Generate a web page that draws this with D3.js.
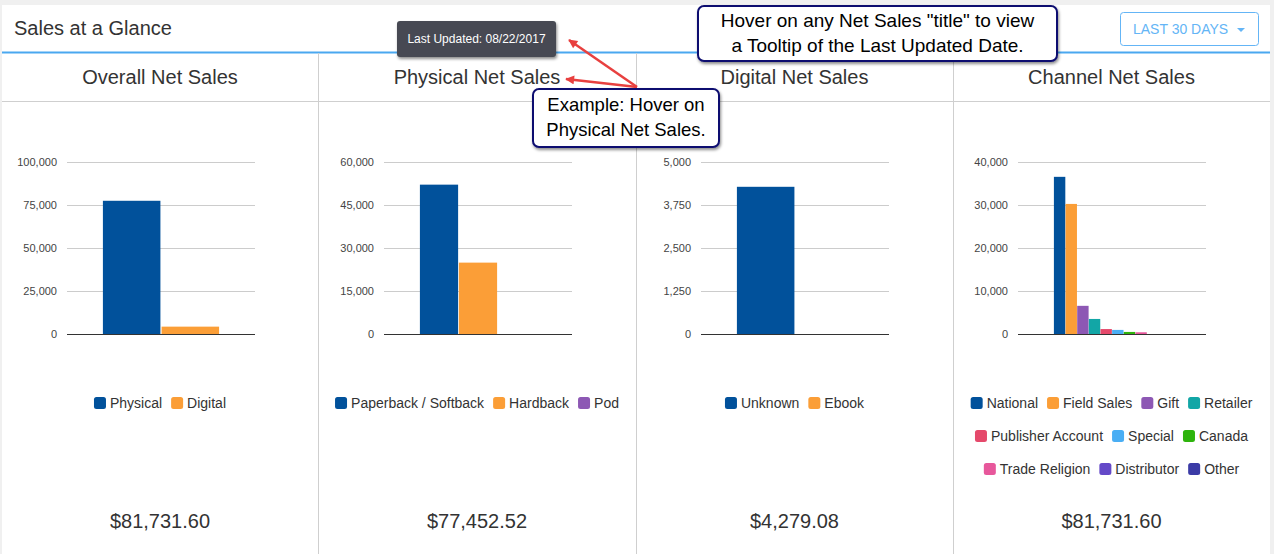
<!DOCTYPE html>
<html>
<head>
<meta charset="utf-8">
<script src="https://cdn.jsdelivr.net/npm/d3@7/dist/d3.min.js"></script>
<style>
  html, body { margin: 0; padding: 0; background: #f0f0f0; }
  svg { display: block; font-family: "Liberation Sans", Arial, sans-serif; }
</style>
</head>
<body>
<svg id="chart" width="1274" height="554"></svg>
<script>
// ---------------- DATA ----------------
const panelTitles = ["Overall Net Sales", "Physical Net Sales", "Digital Net Sales", "Channel Net Sales"];
const panelTotals = ["$81,731.60", "$77,452.52", "$4,279.08", "$81,731.60"];

const overallSeries = ["Physical", "Digital"];
const overallValues = [77452.52, 4279.08];
const overallTicks = [0, 25000, 50000, 75000, 100000];

const physicalSeries = ["Paperback / Softback", "Hardback", "Pod"];
const physicalValues = [52100, 24900, 0];
const physicalTicks = [0, 15000, 30000, 45000, 60000];

const digitalSeries = ["Unknown", "Ebook"];
const digitalValues = [4279.08, 0];
const digitalTicks = [0, 1250, 2500, 3750, 5000];

const channelSeries = ["National", "Field Sales", "Gift", "Retailer", "Publisher Account", "Special", "Canada", "Trade Religion", "Distributor", "Other"];
const channelValues = [36550, 30250, 6550, 3500, 1150, 950, 480, 400, 0, 0];
const channelTicks = [0, 10000, 20000, 30000, 40000];

const seriesColors = ["#01519b", "#fb9e37", "#8d58b4", "#12a6a6", "#e5496b", "#4aaef4", "#2eb40c", "#e7579b", "#6449c8", "#3b3ba6"];

const headerTitle = "Sales at a Glance";
const buttonLabel = "LAST 30 DAYS";
const tooltipText = "Last Updated: 08/22/2017";
const note1Lines = ["Hover on any Net Sales \"title\" to view", "a Tooltip of the Last Updated Date."];
const note2Lines = ["Example: Hover on", "Physical Net Sales."];

// ---------------- LAYOUT ----------------
const svg = d3.select("#chart");
const W = 1274, H = 554;
const panelX = [2, 318, 636, 953, 1270];

const defs = svg.append("defs");
const sh = defs.append("filter").attr("id", "shadow").attr("x", "-20%").attr("y", "-30%").attr("width", "140%").attr("height", "170%");
sh.append("feDropShadow").attr("dx", 1).attr("dy", 2).attr("stdDeviation", 1.5).attr("flood-color", "#000").attr("flood-opacity", 0.45);
const mk = defs.append("marker").attr("id", "arrow").attr("viewBox", "0 0 10 10").attr("refX", 9).attr("refY", 5)
  .attr("markerWidth", 11).attr("markerHeight", 9).attr("markerUnits", "userSpaceOnUse").attr("orient", "auto");
mk.append("path").attr("d", "M0,0 L10,5 L0,10 z").attr("fill", "#e8403f");

// background card
svg.append("rect").attr("x", 2).attr("y", 5).attr("width", 1268).attr("height", H - 5).attr("fill", "#fff");

// header
svg.append("text").attr("x", 14).attr("y", 35).attr("font-size", 20).attr("fill", "#333").text(headerTitle);
svg.append("rect").attr("x", 2).attr("y", 51.5).attr("width", 1268).attr("height", 2).attr("fill", "#4aa8f0");

// button
svg.append("rect").attr("x", 1120.5).attr("y", 12.5).attr("width", 138).attr("height", 33).attr("rx", 3)
  .attr("fill", "#fff").attr("stroke", "#64b5f6");
svg.append("text").attr("x", 1133).attr("y", 34).attr("font-size", 14).attr("fill", "#64b5f6").text(buttonLabel);
svg.append("path").attr("d", "M1237,28 L1245,28 L1241,32 z").attr("fill", "#64b5f6");

// panel separators
svg.append("line").attr("x1", 2).attr("x2", 1270).attr("y1", 101.5).attr("y2", 101.5).attr("stroke", "#cfcfcf");
panelX.slice(1, 4).forEach(x => {
  svg.append("line").attr("x1", x + 0.5).attr("x2", x + 0.5).attr("y1", 53).attr("y2", H).attr("stroke", "#cfcfcf");
});

const panels = [
  { series: overallSeries, values: overallValues, ticks: overallTicks },
  { series: physicalSeries, values: physicalValues, ticks: physicalTicks },
  { series: digitalSeries, values: digitalValues, ticks: digitalTicks },
  { series: channelSeries, values: channelValues, ticks: channelTicks }
];

const plotTop = 162, plotBottom = 334, plotW = 188;

panels.forEach((p, i) => {
  const x0 = panelX[i], x1 = panelX[i + 1];
  const cx = (x0 + x1) / 2;
  const g = svg.append("g");

  // title
  g.append("text").attr("x", cx).attr("y", 84).attr("text-anchor", "middle").attr("font-size", 20).attr("fill", "#333").text(panelTitles[i]);

  const left = Math.round(cx + 0.5 - plotW / 2);
  const y = d3.scaleLinear().domain([0, d3.max(p.ticks)]).range([plotBottom, plotTop]);
  const xc = d3.scaleBand().domain(["all"]).range([left, left + plotW]).paddingInner(0).paddingOuter(0.309);
  const xs = d3.scaleBand().domain(p.series).range([0, xc.bandwidth()]).paddingInner(0.02);

  // gridlines
  g.append("g").selectAll("line").data(p.ticks.filter(t => t !== 0)).join("line")
    .attr("x1", left).attr("x2", left + plotW)
    .attr("y1", d => Math.round(y(d)) + 0.5).attr("y2", d => Math.round(y(d)) + 0.5)
    .attr("stroke", "#cccccc");

  // axis labels
  const ax = g.append("g").attr("transform", `translate(${left - 10},0)`)
    .call(d3.axisLeft(y).tickValues(p.ticks).tickFormat(d3.format(",")).tickSize(0).tickPadding(0));
  ax.select(".domain").remove();
  ax.selectAll("text").attr("font-size", 11).attr("fill", "#444").attr("font-family", "'Liberation Sans', Arial, sans-serif");

  // bars
  g.append("g").selectAll("rect").data(p.series.map((s, k) => ({ s, v: p.values[k], k }))).join("rect")
    .attr("x", d => xc("all") + xs(d.s))
    .attr("width", xs.bandwidth())
    .attr("y", d => y(d.v))
    .attr("height", d => plotBottom - y(d.v))
    .attr("fill", d => seriesColors[d.k]);

  // baseline
  g.append("line").attr("x1", left).attr("x2", left + plotW).attr("y1", plotBottom + 0.5).attr("y2", plotBottom + 0.5)
    .attr("stroke", "#333");

  // legend (flow layout)
  const lg = g.append("g");
  const items = p.series.map((s, k) => {
    const it = lg.append("g");
    it.append("rect").attr("width", 12).attr("height", 12).attr("rx", 2.5).attr("y", -6).attr("fill", seriesColors[k]);
    const t = it.append("text").attr("x", 16).attr("y", 5).attr("font-size", 14).attr("fill", "#333").text(s);
    return { it, w: 16 + t.node().getComputedTextLength() };
  });
  const maxW = 292, gap = 9;
  const rows = [];
  let row = [], rw = 0;
  items.forEach(d => {
    const add = (row.length ? gap : 0) + d.w;
    if (row.length && rw + add > maxW) { rows.push({ row, rw }); row = []; rw = 0; }
    rw += (row.length ? gap : 0) + d.w;
    row.push(d);
  });
  if (row.length) rows.push({ row, rw });
  rows.forEach((r, ri) => {
    let xx = cx - r.rw / 2;
    r.row.forEach(d => {
      d.it.attr("transform", `translate(${xx},${403 + ri * 33})`);
      xx += d.w + gap;
    });
  });

  // total
  g.append("text").attr("x", cx).attr("y", 528).attr("text-anchor", "middle").attr("font-size", 20).attr("fill", "#333").text(panelTotals[i]);
});

// ---------------- ANNOTATIONS ----------------
// tooltip
svg.append("rect").attr("x", 397).attr("y", 21).attr("width", 159).attr("height", 36).attr("rx", 3)
  .attr("fill", "#464a52").attr("filter", "url(#shadow)");
svg.append("text").attr("x", 476.5).attr("y", 43).attr("text-anchor", "middle").attr("font-size", 12).attr("fill", "#fff").text(tooltipText);

// callout 1
svg.append("rect").attr("x", 698).attr("y", 6).attr("width", 359).attr("height", 55).attr("rx", 6)
  .attr("fill", "#fff").attr("stroke", "#0a0a70").attr("stroke-width", 2).attr("filter", "url(#shadow)");
note1Lines.forEach((l, k) => svg.append("text").attr("x", 877.5).attr("y", 27 + k * 25).attr("text-anchor", "middle")
  .attr("font-size", 19).attr("fill", "#000").text(l));

// arrows
svg.append("line").attr("x1", 637).attr("y1", 87).attr("x2", 569).attr("y2", 40)
  .attr("stroke", "#e8403f").attr("stroke-width", 2.5).attr("marker-end", "url(#arrow)");
svg.append("line").attr("x1", 637).attr("y1", 87).attr("x2", 566).attr("y2", 79)
  .attr("stroke", "#e8403f").attr("stroke-width", 2.5).attr("marker-end", "url(#arrow)");

// callout 2
svg.append("rect").attr("x", 533).attr("y", 89).attr("width", 186).attr("height", 58).attr("rx", 6)
  .attr("fill", "#fff").attr("stroke", "#0a0a70").attr("stroke-width", 2).attr("filter", "url(#shadow)");
note2Lines.forEach((l, k) => svg.append("text").attr("x", 626).attr("y", 111 + k * 25).attr("text-anchor", "middle")
  .attr("font-size", 18.5).attr("fill", "#000").text(l));
</script>
</body>
</html>
